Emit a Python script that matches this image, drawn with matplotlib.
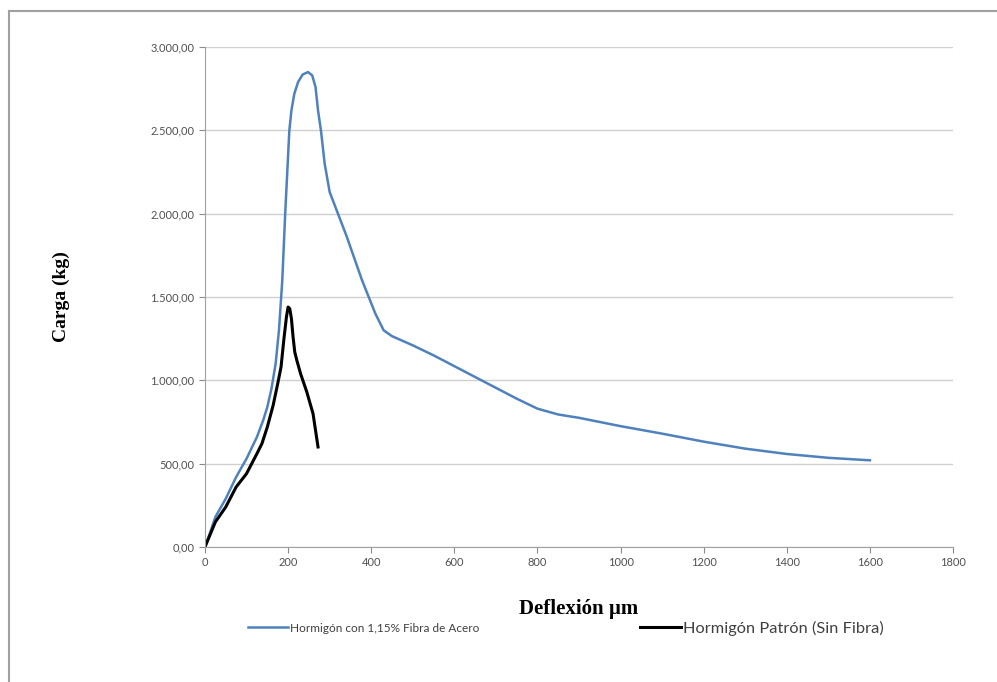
import matplotlib
matplotlib.use('Agg')
import matplotlib.pyplot as plt
from matplotlib.lines import Line2D
from matplotlib.ticker import FuncFormatter

# Hormigón con 1,15% fibra de acero
x_fibra = [0, 10, 25, 50, 75, 100, 125, 140, 150, 160, 170, 178, 186, 193, 198, 203,
           208, 215, 224, 235, 248, 258, 266, 272, 279, 288, 300, 340, 378, 410, 430, 450,
           500, 550, 600, 650, 700, 750, 800, 850, 900, 1000, 1100, 1200, 1300, 1400, 1500, 1600]
y_fibra = [0, 70, 180, 290, 420, 530, 660, 760, 840, 950, 1100, 1300, 1600, 2000, 2250, 2500,
           2620, 2720, 2790, 2835, 2850, 2830, 2760, 2620, 2500, 2300, 2130, 1870, 1600, 1400, 1300, 1265,
           1210, 1150, 1085, 1020, 955, 890, 830, 795, 775, 725, 680, 632, 590, 558, 535, 520]

# Hormigón patrón (sin fibra)
x_patron = [0, 10, 25, 50, 75, 100, 125, 137, 150, 164, 175, 183, 190, 196, 200, 204,
            208, 212, 216, 221, 230, 245, 260, 272]
y_patron = [0, 60, 150, 240, 360, 440, 560, 620, 720, 850, 980, 1080, 1250, 1380, 1440, 1430,
            1370, 1260, 1170, 1120, 1040, 930, 800, 600]

x_ticks = list(range(0, 1801, 200))
y_ticks = list(range(0, 3001, 500))

label_fibra = 'Hormigón con 1,15% Fibra de Acero'
label_patron = 'Hormigón Patrón (Sin Fibra)'

plt.rcParams['font.family'] = ['Liberation Sans Narrow', 'Lato', 'DejaVu Sans']

fig = plt.figure(figsize=(9.97, 6.82), dpi=100)
ax = fig.add_axes([0.2056, 0.198, 0.7503, 0.733])

l1, = ax.plot(x_fibra, y_fibra, color='#4F81BD', lw=1.8, label=label_fibra)
l2, = ax.plot(x_patron, y_patron, color='black', lw=2.2, label=label_patron)

ax.set_xlim(0, 1800)
ax.set_ylim(0, 3000)
ax.set_xticks(x_ticks)
ax.set_yticks(y_ticks)


def fmt_y(v, pos):
    s = '{:,.2f}'.format(v)
    return s.replace(',', 'X').replace('.', ',').replace('X', '.')


ax.yaxis.set_major_formatter(FuncFormatter(fmt_y))
ax.tick_params(labelsize=8, colors='#8a8a8a', labelcolor='#505050', length=4)
ax.grid(axis='y', color='#d0d0d0', lw=1)
ax.set_axisbelow(True)
for s in ['top', 'right']:
    ax.spines[s].set_visible(False)
for s in ['left', 'bottom']:
    ax.spines[s].set_color('#a0a0a0')

ax.set_xlabel('Deflexión µm', family='Liberation Serif', fontweight='bold', fontsize=15, labelpad=22)
ax.set_ylabel('Carga (kg)', family='Liberation Serif', fontweight='bold', fontsize=14, labelpad=58)

# leyenda: dos entradas colocadas por separado (la segunda en letra más grande)
leg1 = fig.legend(handles=[l1], loc='center left', bbox_to_anchor=(0.249, 0.079), frameon=False,
                  fontsize=8.5, handlelength=3.4, handletextpad=0.1, borderpad=0, borderaxespad=0)
leg2 = fig.legend(handles=[l2], loc='center left', bbox_to_anchor=(0.642, 0.079), frameon=False,
                  fontsize=11.8, handlelength=2.5, handletextpad=0.1, borderpad=0, borderaxespad=0)
for leg in (leg1, leg2):
    for t in leg.get_texts():
        t.set_color('#404040')

# marco de la imagen (solo borde superior e izquierdo visible)
fig.add_artist(Line2D([0.009, 1], [0.984, 0.984], color='#a0a0a0', lw=1.5, transform=fig.transFigure))
fig.add_artist(Line2D([0.009, 0.009], [0, 0.984], color='#a0a0a0', lw=1.5, transform=fig.transFigure))

fig.savefig('out.png', dpi=100)
